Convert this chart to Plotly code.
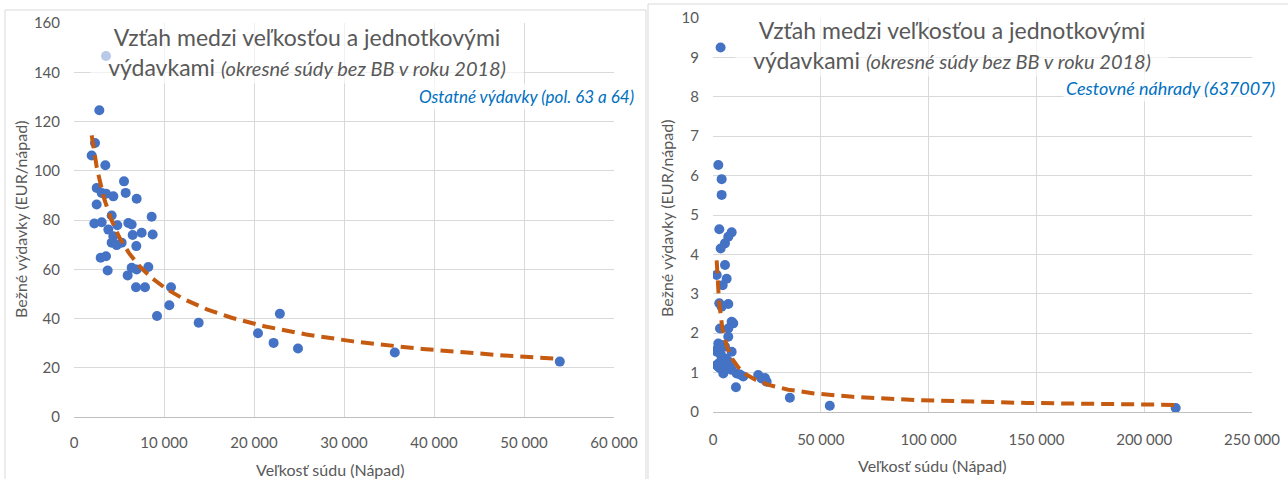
import numpy as np
import plotly.graph_objects as go

# ---------------- data ----------------
# Left chart: Ostatné výdavky (pol. 63 a 64)
left_x = [2815, 2333, 1963, 3481, 5556, 5741, 6963, 2519, 3074, 3556, 4370, 2519,
          4185, 8630, 2259, 3074, 3815, 4815, 6037, 6407, 6519, 7519, 8741, 4370,
          4185, 4741, 5296, 6926, 2963, 3556, 3741, 5963, 6407, 6963, 8259, 6889,
          7889, 10778, 10593, 9222, 13852, 20444, 22178, 22874, 24889, 35644, 53978,
          3556]
left_y = [124.6, 111.3, 106.2, 102.2, 95.7, 91.0, 88.6, 93.0, 91.0, 90.7, 89.6, 86.3,
          81.8, 81.3, 78.6, 79.1, 76.1, 77.9, 78.8, 78.2, 73.9, 74.8, 74.1, 73.4,
          70.8, 69.8, 70.8, 69.4, 64.7, 65.3, 59.5, 57.5, 60.6, 59.9, 60.9, 52.7,
          52.7, 52.7, 45.4, 41.0, 38.3, 34.0, 30.1, 41.9, 27.8, 26.2, 22.5,
          146.6]

# Right chart: Cestovné náhrady (637007)
right_x = [3520, 2460, 4010, 4010, 2920, 8650, 7090, 5560, 3560, 5560, 1700, 6340,
           4480, 2920, 7090, 4000, 8650, 9400, 3240, 7080, 7080, 2450, 5560, 1700,
           8650, 4000, 6000, 1700, 3240, 4770, 8650, 10970, 12500, 14030, 20980,
           22500, 24080, 24860, 10650, 35650, 54170, 214600, 2450, 7870, 4000,
           3000, 5000, 2000, 6800, 3700]
right_y = [9.25, 6.27, 5.91, 5.51, 4.64, 4.56, 4.45, 4.28, 4.15, 3.73, 3.48, 3.38,
           3.22, 2.76, 2.74, 2.67, 2.29, 2.25, 2.12, 2.12, 1.91, 1.74, 1.66, 1.53,
           1.53, 1.40, 1.35, 1.19, 1.11, 0.98, 1.07, 0.98, 0.95, 0.90, 0.94,
           0.85, 0.86, 0.77, 0.63, 0.36, 0.16, 0.10, 1.15, 1.15, 1.70,
           1.25, 1.10, 1.60, 1.30, 1.45]

title_main = "Vzťah medzi veľkosťou a jednotkovými"
title_line2 = "výdavkami"
title_sub = "(okresné súdy bez BB v roku 2018)"
left_series = "Ostatné výdavky (pol. 63 a 64)"
right_series = "Cestovné náhrady (637007)"
x_title = "Veľkosť súdu (Nápad)"
y_title = "Bežné výdavky (EUR/nápad)"

# ---------------- styling ----------------
W, H = 1288, 479
FONT = "Lato"
GREY = "#595959"
BLUE = "#4472C4"
ORANGE = "#C55A11"
GRID = "#d9d9d9"


def px(x):
    return x / W


def py(y):
    return 1 - y / H


def power_fit(xs, ys):
    b, lna = np.polyfit(np.log(xs), np.log(ys), 1)
    xx = np.geomspace(min(xs), max(xs), 300)
    return xx, np.exp(lna) * xx ** b


fig = go.Figure()

for xs, ys, xa, ya in [(left_x, left_y, "x", "y"), (right_x, right_y, "x2", "y2")]:
    fig.add_trace(go.Scatter(x=xs, y=ys, mode="markers", xaxis=xa, yaxis=ya,
                             marker=dict(color=BLUE, size=10), showlegend=False,
                             hoverinfo="x+y"))
    tx, ty = power_fit(xs, ys)
    fig.add_trace(go.Scatter(x=tx, y=ty, mode="lines", xaxis=xa, yaxis=ya,
                             line=dict(color=ORANGE, width=4, dash="13px,7px"),
                             showlegend=False, hoverinfo="skip"))

axis_common = dict(showgrid=True, gridcolor=GRID, gridwidth=1, zeroline=False,
                   tickfont=dict(family=FONT, size=15, color=GREY), ticks="",
                   fixedrange=True, automargin=False)

fig.update_layout(
    width=W, height=H, margin=dict(l=0, r=0, t=0, b=0, autoexpand=False),
    paper_bgcolor="white", plot_bgcolor="white",
    separators=". ",
    font=dict(family=FONT, color=GREY),
    xaxis=dict(domain=[px(74), px(614)], range=[0, 60000], dtick=10000,
               tickformat=",d",
               showline=True, linecolor="#bfbfbf", linewidth=1,
               ticklabelstandoff=12, anchor="y", **axis_common),
    yaxis=dict(domain=[py(417), py(23)], range=[0, 160], dtick=20,
               ticklabelstandoff=13, anchor="x", **axis_common),
    xaxis2=dict(domain=[px(713), px(1252)], range=[0, 250000], dtick=50000,
                tickformat=",d",
                showline=True, linecolor="#bfbfbf", linewidth=1,
                ticklabelstandoff=14, anchor="y2", **axis_common),
    yaxis2=dict(domain=[py(412), py(18)], range=[0, 10], dtick=1,
                ticklabelstandoff=13, anchor="x2", **axis_common),
)

# panel borders
fig.add_shape(type="rect", xref="paper", yref="paper", x0=px(5), x1=px(646),
              y0=py(490), y1=py(10), line=dict(color=GRID, width=1), layer="below")
fig.add_shape(type="rect", xref="paper", yref="paper", x0=px(648), x1=px(1300),
              y0=py(490), y1=py(4), line=dict(color=GRID, width=1), layer="below")

title_text = (f"{title_main}<br>{title_line2} "
              f"<i><span style='font-size:20px'>{title_sub}</span></i>")

for cx, cy in [(307, 52), (952, 45)]:
    fig.add_annotation(xref="paper", yref="paper", x=px(cx), y=py(cy),
                       xanchor="center", yanchor="middle", showarrow=False,
                       text=title_text, align="center",
                       font=dict(family=FONT, size=23, color=GREY),
                       bgcolor="rgba(255,255,255,0.62)", width=430, height=60)

for rx, cy, txt, fs in [(637, 97, left_series, 17), (1278, 88, right_series, 18)]:
    fig.add_annotation(xref="paper", yref="paper", x=px(rx), y=py(cy),
                       xanchor="right", yanchor="middle", showarrow=False,
                       text=f"<i>{txt}</i>", align="right",
                       font=dict(family=FONT, size=fs, color="#0070C0"),
                       bgcolor="rgba(255,255,255,0.75)", borderpad=2)

# axis titles
for cx, cy in [(330, 469), (932, 465)]:
    fig.add_annotation(xref="paper", yref="paper", x=px(cx), y=py(cy),
                       xanchor="center", yanchor="middle", showarrow=False,
                       text=x_title, font=dict(family=FONT, size=16, color=GREY))
for cx, cy in [(20, 220), (666, 218)]:
    fig.add_annotation(xref="paper", yref="paper", x=px(cx), y=py(cy),
                       xanchor="center", yanchor="middle", showarrow=False,
                       text=y_title, textangle=-90,
                       font=dict(family=FONT, size=16, color=GREY))

fig.write_html("out.html",
               config={"displayModeBar": False},
               post_script="document.body.style.margin='0px';"
                           "document.body.style.overflow='hidden';")
